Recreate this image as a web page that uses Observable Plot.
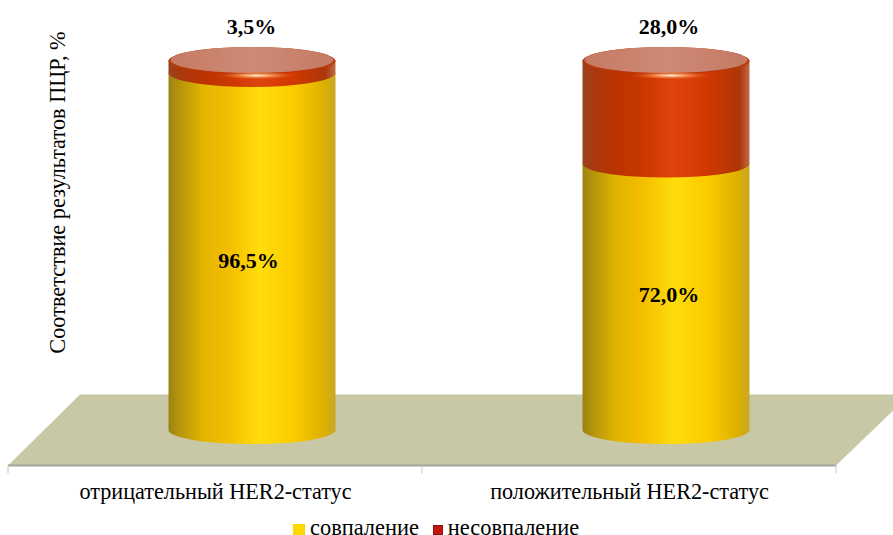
<!DOCTYPE html>
<html lang="ru">
<head>
<meta charset="utf-8">
<script src="https://cdn.jsdelivr.net/npm/d3@7"></script>
<script src="https://cdn.jsdelivr.net/npm/@observablehq/plot@0.6"></script>
<style>
  html, body { margin: 0; padding: 0; background: #fff; overflow: hidden; }
  .legend { display: flex; align-items: center; height: 19px; padding-left: 293px; margin-top: 2px;
            font: 22.4px/19px "Liberation Serif", serif; color: #000; white-space: nowrap; }
  .legend i { display: inline-block; margin-right: 5px; margin-top: 4px; }
  .legend span { margin-right: 14px; }
</style>
</head>
<body>
<div id="chart"></div>
<script>
// Concordance of PCR results by HER2 status
const categories = ["отрицательный HER2-статус", "положительный HER2-статус"];
const matchValues = [96.5, 72.0];
const mismatchValues = [3.5, 28.0];
const matchLabels = ["96,5%", "72,0%"];
const mismatchLabels = ["3,5%", "28,0%"];
const seriesNames = ["совпаление", "несовпаление"];
const axisLabel = "Соответствие результатов ПЦР, %";

const rows = categories.map((category, i) => ({
  category,
  match: matchValues[i],
  mismatch: mismatchValues[i],
  matchLabel: matchLabels[i],
  mismatchLabel: mismatchLabels[i]
}));

const serif = "Liberation Serif, serif";
const capRy = 14;          // vertical radius of the cylinder ellipses, px
const floorDepth = 9.6;    // half depth of the floor, in y-scale units
const floorSkew = 74;      // horizontal shift of the floor's back edge, px
const cylinderShift = 37;  // cylinders stand in the middle of the floor

const svgNS = "http://www.w3.org/2000/svg";
const el = (name, attrs) => {
  const node = document.createElementNS(svgNS, name);
  for (const [k, v] of Object.entries(attrs)) node.setAttribute(k, v);
  return node;
};

// Horizontal shading that turns a flat bar into a round surface
function gradients() {
  const defs = el("defs", {});
  const linear = (id, stops) => {
    const g = el("linearGradient", {id, x1: 0, x2: 1, y1: 0, y2: 0});
    for (const [offset, color] of stops) g.append(el("stop", {offset, "stop-color": color}));
    defs.append(g);
  };
  linear("cyl-yellow", [[0, "#9c8212"], [0.06, "#b4930c"], [0.2, "#e0b400"], [0.36, "#f4be00"],
    [0.55, "#ffdd0a"], [0.75, "#fccb00"], [0.93, "#dcb000"], [1, "#c9a726"]]);
  linear("cyl-red", [[0, "#97441f"], [0.06, "#a83a10"], [0.2, "#bb3300"], [0.38, "#cb3800"],
    [0.54, "#e0440e"], [0.75, "#d03800"], [0.94, "#ad3608"], [1, "#c06a48"]]);
  linear("cap-face", [[0, "#c67a62"], [0.5, "#ce8a76"], [1, "#c47a64"]]);
  const glow = el("radialGradient", {id: "cap-glow"});
  glow.append(el("stop", {offset: 0, "stop-color": "#fff4e4", "stop-opacity": 1}));
  glow.append(el("stop", {offset: 0.35, "stop-color": "#ffb070", "stop-opacity": 0.8}));
  glow.append(el("stop", {offset: 1, "stop-color": "#e0501a", "stop-opacity": 0}));
  defs.append(glow);
  return defs;
}

// Skewed floor with the category ticks along its front edge
function floor(index, scales) {
  const g = el("g", {});
  const [x0, x1] = scales.x.range ? scales.x.range() : [8, 836];
  const front = scales.y(-floorDepth), back = scales.y(floorDepth);
  g.append(el("polygon", {
    points: `${x0},${front} ${x1},${front} ${x1 + floorSkew},${back} ${x0 + floorSkew - 2},${back}`,
    fill: "#c8c8a6"
  }));
  g.append(el("line", {x1: x0, x2: x1, y1: front, y2: front, stroke: "#a4a49a", "stroke-width": 2}));
  const step = (x1 - x0) / categories.length;
  d3.range(categories.length + 1).forEach(i => {
    g.append(el("line", {x1: x0 + i * step, x2: x0 + i * step, y1: front, y2: front + 8,
      stroke: "#c6c6c6", "stroke-width": 1}));
  });
  return g;
}

// Rebuilds each bar rectangle of a stacked segment as a cylinder section
function cylinder({cap}) {
  return function (index, scales, values, dimensions, context, next) {
    const g = next(index, scales, values, dimensions, context);
    for (const rect of Array.from(g.querySelectorAll("rect"))) {
      const x = +rect.getAttribute("x"), w = +rect.getAttribute("width");
      const y = +rect.getAttribute("y"), h = +rect.getAttribute("height");
      const rx = w / 2;
      const path = el("path", {
        d: `M${x},${y + h}A${rx},${capRy} 0 0 0 ${x + w},${y + h}V${y + 1}A${rx},${capRy} 0 0 0 ${x},${y + 1}Z`
      });
      const parent = rect.parentNode;
      rect.replaceWith(path);
      if (cap) {
        parent.append(el("ellipse", {cx: x + rx, cy: y + 1, rx, ry: capRy - 1, fill: "#b9380a"}));
        parent.append(el("ellipse", {cx: x + rx, cy: y, rx: rx - 2, ry: capRy - 1, fill: "url(#cap-face)"}));
        parent.append(el("ellipse", {cx: x + rx + 5, cy: y + capRy + 1.5, rx: 40, ry: 4, fill: "url(#cap-glow)"}));
      }
    }
    return g;
  };
}

const barWidth = 167;
const bandInset = (414 - barWidth) / 2;
const valueLabel = {fontFamily: serif, fontSize: 22, fontWeight: "bold", fill: "#000"};

const plot = Plot.plot({
  width: 893,
  height: 516,
  marginTop: 60,
  marginBottom: 86,
  marginLeft: 8,
  marginRight: 57,
  style: {background: "transparent", overflow: "hidden"},
  x: {domain: categories, padding: 0, axis: null},
  y: {domain: [0, 100], axis: null},
  marks: [
    gradients,
    floor,
    Plot.barY(rows, {
      x: "category", y1: 0, y2: "match", insetLeft: bandInset, insetRight: bandInset, dx: cylinderShift,
      fill: "url(#cyl-yellow)", render: cylinder({cap: false})
    }),
    Plot.barY(rows, {
      x: "category", y1: "match", y2: () => 100, insetLeft: bandInset, insetRight: bandInset, dx: cylinderShift,
      fill: "url(#cyl-red)", render: cylinder({cap: true})
    }),
    Plot.axisX({
      anchor: "bottom", tickSize: 0, tickPadding: 53, label: null,
      fontFamily: serif, fontSize: 22.2, fill: "#000"
    }),
    Plot.text([axisLabel], {
      text: d => d, frameAnchor: "left", rotate: -90, dx: 49, dy: -53, textAnchor: "middle",
      fontFamily: serif, fontSize: 22.3, fill: "#000"
    }),
    Plot.text(rows.slice(0, 1), {
      x: "category", y: () => 100, text: "mismatchLabel", dx: cylinderShift - 1, dy: -34, ...valueLabel
    }),
    Plot.text(rows.slice(1), {
      x: "category", y: () => 100, text: "mismatchLabel", dx: cylinderShift + 2.5, dy: -34, ...valueLabel
    }),
    Plot.text(rows.slice(0, 1), {
      x: "category", y: d => d.match / 2, text: "matchLabel", dx: cylinderShift - 4, dy: 9, ...valueLabel
    }),
    Plot.text(rows.slice(1), {
      x: "category", y: d => d.match / 2, text: "matchLabel", dx: cylinderShift + 2.5, dy: -2, ...valueLabel
    })
  ]
});
document.getElementById("chart").append(plot);
plot.style.display = "block";

// Legend under the plot
const swatches = [
  "width:12px;height:12px;background:#ffd800",
  "width:8px;height:8px;background:#c8140a;border:1px solid #7a1a10"
];
const legend = d3.select("body").append("div").attr("class", "legend");
seriesNames.forEach((name, i) => {
  legend.append("i").attr("style", swatches[i]);
  legend.append("span").text(name);
});
</script>
</body>
</html>
